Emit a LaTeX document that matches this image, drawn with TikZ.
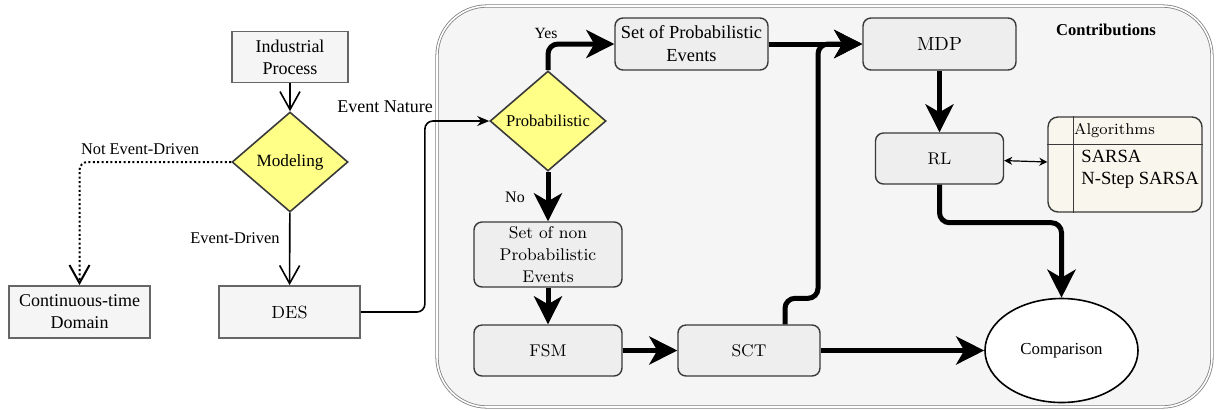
\documentclass[tikz,border=0pt]{standalone}
\usepackage{fontspec}
\usetikzlibrary{arrows.meta,shapes.geometric,calc}
\newfontfamily\tms{Liberation Serif}
\definecolor{boxfill}{HTML}{F5F5F5}
\definecolor{boxline}{HTML}{666666}
\definecolor{rfill}{HTML}{EEEEEE}
\definecolor{rline}{HTML}{3A3A3A}
\definecolor{dfill}{HTML}{FFFF88}
\definecolor{afill}{HTML}{F9F7ED}
\definecolor{cfill}{HTML}{F5F5F5}

\begin{document}
\begin{tikzpicture}[x=0.5pt,y=-0.5pt,
    sqbox/.style={draw=boxline,line width=0.9pt,fill=boxfill,align=center,inner sep=1pt,
      minimum width=70.5pt,minimum height=26pt,font=\tms\fontsize{9}{11}\selectfont},
    rbox/.style={draw=rline,line width=0.7pt,fill=rfill,rounded corners=4pt,align=center,inner sep=1pt,
      font=\fontsize{8.5}{11}\selectfont},
    dec/.style={diamond,draw=rline,line width=0.8pt,fill=dfill,aspect=1.16,inner sep=0pt,
      minimum width=58pt,minimum height=50pt},
    lbl/.style={inner sep=0pt,font=\tms\fontsize{8.2}{10}\selectfont},
    thn/.style={line width=0.8pt,-{Straight Barb[length=9pt,width=10pt]}},
    thk/.style={line width=2.5pt,rounded corners=5pt,-{Stealth[length=14pt,width=14pt,inset=4pt]}}]
    \useasboundingbox (0,0) rectangle (1216,409);
    \draw[draw=gray,line width=0.4pt,double=white,double distance=0.8pt,fill=cfill,rounded corners=25pt]
      (437,6) rectangle (1212,407);

    \node[sqbox,minimum width=58pt,minimum height=25.5pt] (ind) at (290,57) {Industrial\\Process};
    \node[dec,font=\tms\fontsize{8.6}{10}\selectfont] (mod) at (290,162) {Modeling};
    \node[sqbox] (cont) at (79.5,312) {Continuous-time\\Domain};
    \node[sqbox,font=\fontsize{8.8}{11}\selectfont] (des) at (289.5,312) {DES};

    \node[dec,font=\tms\fontsize{8.3}{10}\selectfont] (prob) at (548,121) {Probabilistic};
    \node[rbox,font=\tms\fontsize{9.2}{11.5}\selectfont,minimum width=76.5pt,minimum height=26pt] (setp) at (691.5,44) {Set of Probabilistic\\Events};
    \node[rbox,inner sep=0pt,font=\fontsize{8.5}{10.8}\selectfont,minimum width=74pt,minimum height=32.5pt] (setn) at (548,254.5) {Set of non\\Probabilistic\\Events};
    \node[rbox,minimum width=74pt,minimum height=25.5pt] (fsm) at (548,350.5) {FSM};
    \node[rbox,minimum width=71pt,minimum height=25.5pt] (sct) at (749,350.5) {SCT};
    \node[rbox,font=\fontsize{9.5}{11}\selectfont,minimum width=76.5pt,minimum height=26pt] (mdp) at (939.5,44) {MDP};
    \node[rbox,minimum width=64pt,minimum height=25.5pt] (rl) at (939.5,158.5) {RL};
    \node[ellipse,draw,line width=0.8pt,fill=white,minimum width=76.5pt,minimum height=52pt,
      font=\tms\fontsize{8.4}{10}\selectfont] (cmp) at (1061.5,350.5) {Comparison};

    \node[draw=rline,line width=0.7pt,fill=afill,rounded corners=5pt,minimum width=77pt,minimum height=47.5pt] (alg) at (1125,164.5) {};
    \draw[draw=rline,line width=0.7pt] ([xshift=13pt]alg.north west) -- ([xshift=13pt]alg.south west);
    \draw[draw=rline,line width=0.7pt] ([yshift=-14pt]alg.north west) -- ([yshift=-14pt]alg.north east);
    \node[inner sep=0pt,font=\fontsize{7.8}{9}\selectfont] (algt) at (1114.5,131) {Algorithms};
    \node[anchor=west,align=left,inner sep=0pt,font=\tms\fontsize{9.3}{11}\selectfont] (algl) at (1081,169) {SARSA\\N-Step SARSA};
    \node[inner sep=0pt,font=\tms\bfseries\fontsize{8.3}{10}\selectfont] (ctb) at (1106,30) {Contributions};

    \node[lbl] (lnot) at (140,149) {Not Event-Driven};
    \node[lbl] (lev) at (235,238) {Event-Driven};
    \node[lbl,font=\tms\fontsize{9}{10}\selectfont] (lnat) at (385,107) {Event Nature};
    \node[lbl,font=\tms\fontsize{7.8}{10}\selectfont] (lyes) at (546,33) {Yes};
    \node[lbl,font=\tms\fontsize{8}{10}\selectfont] (lno) at (515,197) {No};

    \draw[thn] (ind) -- (mod);
    \draw[thn] (mod) -- (des);
    \draw[thn,line width=1pt,dash pattern=on 1pt off 1.2pt,rounded corners=4pt] (mod.west) -| (cont.north);
    \draw[line width=0.8pt,rounded corners=4pt,-{Stealth[length=6pt,width=5pt]}] (des.east) -- ++(64,0) |- (prob.west);

    \draw[thk] (prob.north) |- (setp.west);
    \draw[thk] (prob.south) -- (setn.north);
    \draw[thk] (setn) -- (fsm);
    \draw[thk] (fsm) -- (sct);
    \draw[thk] (setp) -- (mdp);
    \draw[thk] ([xshift=18pt]sct.north) -- ++(0,-26) -- ++(33,0) |- (mdp.west);
    \draw[thk] (mdp) -- (rl);
    \draw[thk] (rl.south) -- ++(0,38) -| (cmp.north);
    \draw[thk] (sct) -- (cmp);
    \draw[line width=0.6pt,{Stealth[length=4pt,width=4pt]}-{Stealth[length=4pt,width=4pt]}] (rl) -- (alg);
\end{tikzpicture}
\end{document}
